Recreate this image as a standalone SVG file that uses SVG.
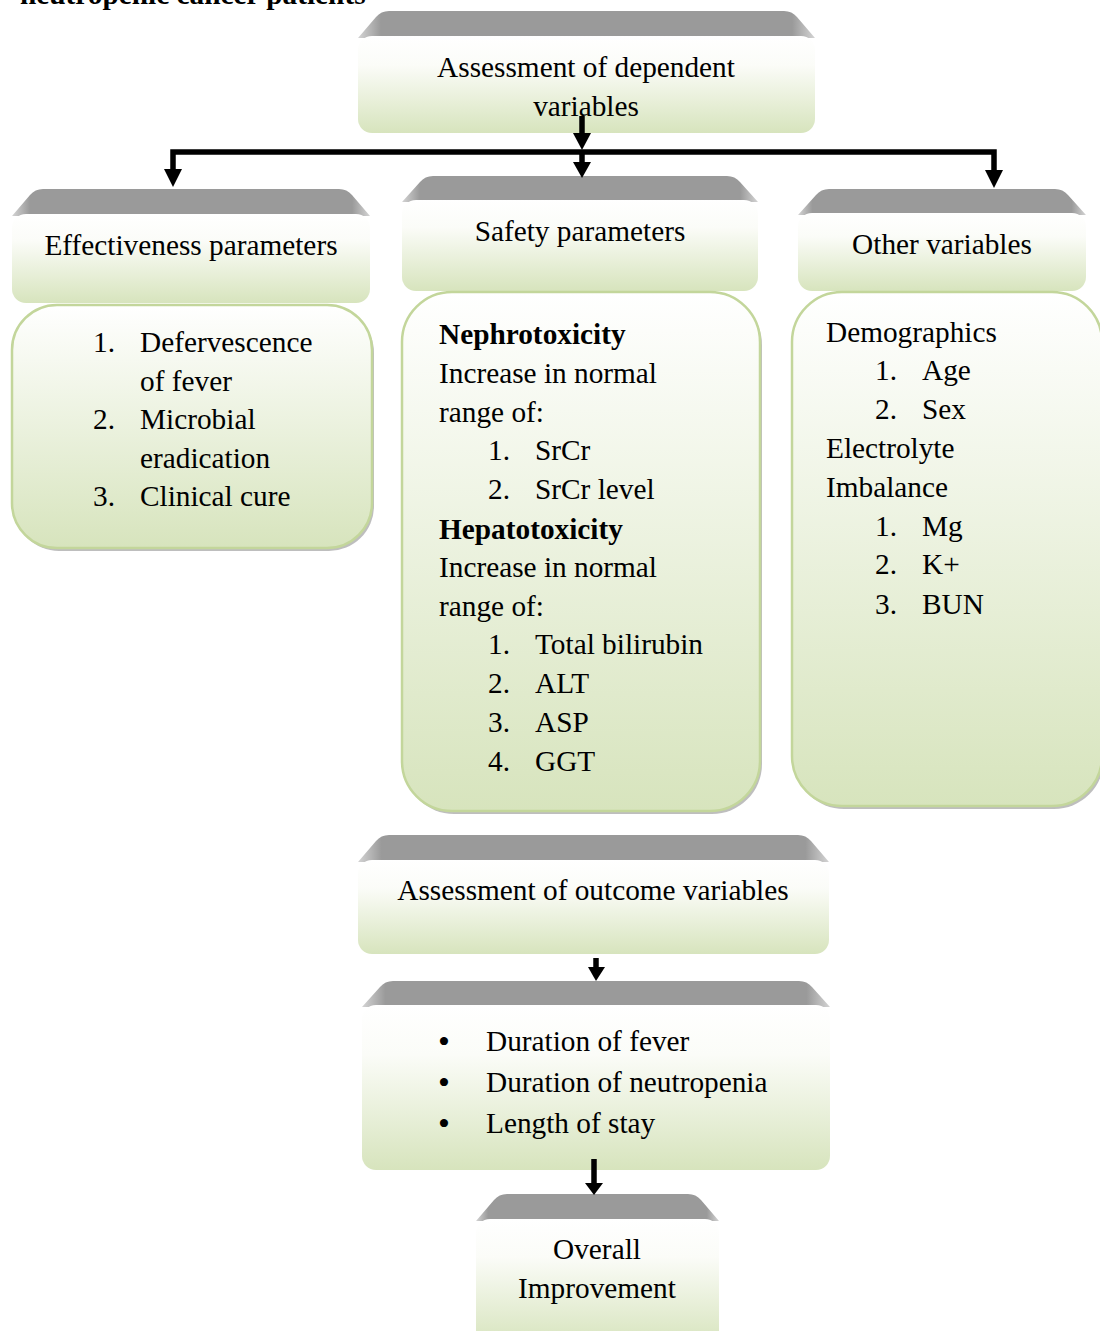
<svg xmlns="http://www.w3.org/2000/svg" width="1100" height="1331" viewBox="0 0 1100 1331">
<defs>
  <linearGradient id="gHead" x1="0" y1="0" x2="0" y2="1">
    <stop offset="0" stop-color="#ffffff"/>
    <stop offset="0.3" stop-color="#fbfcf8"/>
    <stop offset="1" stop-color="#d7e4bd"/>
  </linearGradient>
  <linearGradient id="gBody" x1="0" y1="0" x2="0" y2="1">
    <stop offset="0" stop-color="#ffffff"/>
    <stop offset="1" stop-color="#d7e4bd"/>
  </linearGradient>
  <linearGradient id="gGray" x1="0" y1="0" x2="1" y2="0">
    <stop offset="0" stop-color="#d4d4d4"/>
    <stop offset="0.05" stop-color="#9a9a9a"/>
    <stop offset="0.95" stop-color="#9a9a9a"/>
    <stop offset="1" stop-color="#d4d4d4"/>
  </linearGradient>
</defs>
<style>
  text { font-family: "Liberation Serif", "Times New Roman", serif; font-size: 29.3px; fill: #000; }
  .b { font-weight: bold; }
  .c { text-anchor: middle; }
  .bul { font-size: 34px; }
  .gray { fill: url(#gGray); }
  .head { fill: url(#gHead); }
  .body { fill: url(#gBody); stroke: #c3d69b; stroke-width: 2.5; }
  .shadow { fill: #a8a8a8; opacity: 0.75; }
  .conn { fill: none; stroke: #000; stroke-width: 5.5; }
  .tip { fill: #000; stroke: none; }
</style>

<text x="20" y="4" class="b">neutropenic cancer patients</text>

<g id="node-dependent">
  <path class="gray" d="M358,38 L376,17 Q381,11 389,11 L784,11 Q792,11 797,17 L815,38 Z"/>
  <rect class="head" x="358" y="36" width="457" height="97" rx="14"/>
  <text x="586" y="77" class="c">Assessment of dependent</text>
  <text x="586" y="116" class="c">variables</text>
</g>

<g id="node-effectiveness">
  <path class="gray" d="M12,216 L30,195 Q35,189 43,189 L339,189 Q347,189 352,195 L370,216 Z"/>
  <rect class="head" x="12" y="214" width="358" height="89" rx="14"/>
  <text x="191" y="255" class="c">Effectiveness parameters</text>
</g>
<g id="node-effectiveness-list">
  <rect class="shadow" x="14" y="308" width="360" height="243" rx="45"/>
  <rect class="body" x="12" y="305" width="360" height="243" rx="45"/>
  <text x="93" y="352">1.</text><text x="140" y="352">Defervescence</text>
  <text x="140" y="391">of fever</text>
  <text x="93" y="429">2.</text><text x="140" y="429">Microbial</text>
  <text x="140" y="468">eradication</text>
  <text x="93" y="506">3.</text><text x="140" y="506">Clinical cure</text>
</g>

<g id="node-safety">
  <path class="gray" d="M402,202 L420,182 Q425,176 433,176 L727,176 Q735,176 740,182 L758,202 Z"/>
  <rect class="head" x="402" y="200" width="356" height="91" rx="14"/>
  <text x="580" y="241" class="c">Safety parameters</text>
</g>
<g id="node-safety-list">
  <rect class="shadow" x="404" y="295" width="358" height="519" rx="50"/>
  <rect class="body" x="402" y="292" width="358" height="519" rx="50"/>
  <text x="439" y="344" class="b">Nephrotoxicity</text>
  <text x="439" y="383">Increase in normal</text>
  <text x="439" y="422">range of:</text>
  <text x="488" y="460">1.</text><text x="535" y="460">SrCr</text>
  <text x="488" y="499">2.</text><text x="535" y="499">SrCr level</text>
  <text x="439" y="539" class="b">Hepatotoxicity</text>
  <text x="439" y="577">Increase in normal</text>
  <text x="439" y="616">range of:</text>
  <text x="488" y="654">1.</text><text x="535" y="654">Total bilirubin</text>
  <text x="488" y="693">2.</text><text x="535" y="693">ALT</text>
  <text x="488" y="732">3.</text><text x="535" y="732">ASP</text>
  <text x="488" y="771">4.</text><text x="535" y="771">GGT</text>
</g>

<g id="node-other">
  <path class="gray" d="M798,215 L816,195 Q821,189 829,189 L1055,189 Q1063,189 1068,195 L1086,215 Z"/>
  <rect class="head" x="798" y="213" width="288" height="78" rx="14"/>
  <text x="942" y="254" class="c">Other variables</text>
</g>
<g id="node-other-list">
  <rect class="shadow" x="794" y="295" width="310" height="514" rx="50"/>
  <rect class="body" x="792" y="292" width="310" height="514" rx="50"/>
  <text x="826" y="342">Demographics</text>
  <text x="875" y="380">1.</text><text x="922" y="380">Age</text>
  <text x="875" y="419">2.</text><text x="922" y="419">Sex</text>
  <text x="826" y="458">Electrolyte</text>
  <text x="826" y="497">Imbalance</text>
  <text x="875" y="536">1.</text><text x="922" y="536">Mg</text>
  <text x="875" y="574">2.</text><text x="922" y="574">K+</text>
  <text x="875" y="614">3.</text><text x="922" y="614">BUN</text>
</g>

<g id="node-outcome">
  <path class="gray" d="M358,862 L376,841 Q381,835 389,835 L798,835 Q806,835 811,841 L829,862 Z"/>
  <rect class="head" x="358" y="860" width="471" height="94" rx="14"/>
  <text x="593" y="900" class="c">Assessment of outcome variables</text>
</g>

<g id="node-outcome-list">
  <path class="gray" d="M362,1007 L380,987 Q385,981 393,981 L799,981 Q807,981 812,987 L830,1007 Z"/>
  <rect class="head" x="362" y="1005" width="468" height="165" rx="14"/>
  <text x="444" y="1053" class="c bul">•</text><text x="486" y="1051">Duration of fever</text>
  <text x="444" y="1094" class="c bul">•</text><text x="486" y="1092">Duration of neutropenia</text>
  <text x="444" y="1135" class="c bul">•</text><text x="486" y="1133">Length of stay</text>
</g>

<g id="node-overall">
  <path class="gray" d="M476,1221 L494,1200 Q499,1194 507,1194 L688,1194 Q696,1194 701,1200 L719,1221 Z"/>
  <rect class="head" x="476" y="1219" width="243" height="126" rx="14"/>
  <text x="597" y="1259" class="c">Overall</text>
  <text x="597" y="1298" class="c">Improvement</text>
</g>

<g id="connectors">
  <path class="conn" d="M582,116 V135"/>
  <polygon class="tip" points="573,133 591,133 582,150"/>
  <path class="conn" d="M173,171 V152 H994 V172"/>
  <polygon class="tip" points="164,169 182,169 173,187"/>
  <polygon class="tip" points="985,170 1003,170 994,188"/>
  <path class="conn" d="M582,152 V164"/>
  <polygon class="tip" points="573,162 591,162 582,178"/>
  <path class="conn" d="M596,958 V969"/>
  <polygon class="tip" points="588,967 605,967 596,981"/>
  <path class="conn" d="M594,1159 V1185"/>
  <polygon class="tip" points="585,1183 603,1183 594,1195"/>
</g>
</svg>
